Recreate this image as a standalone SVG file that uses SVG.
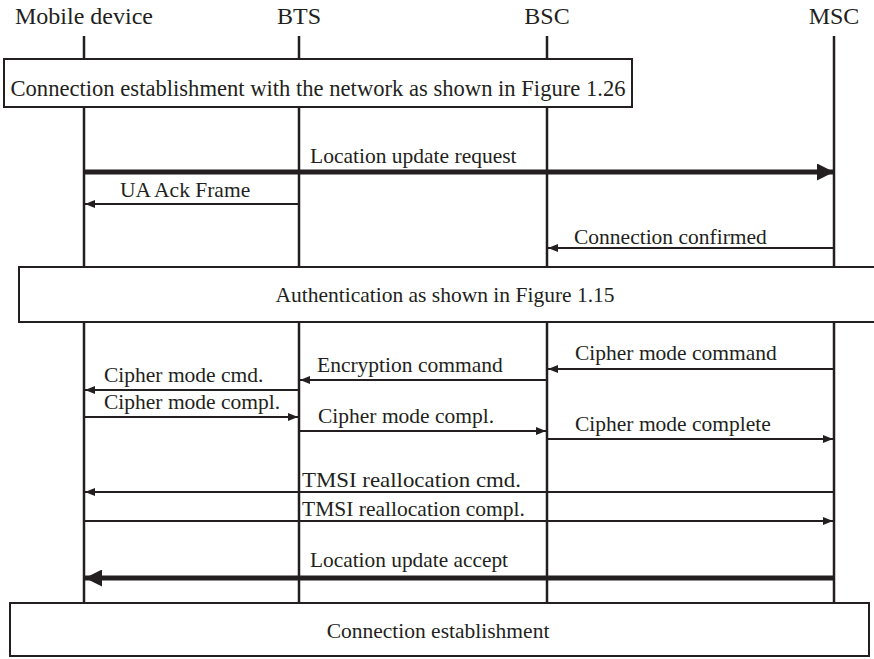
<svg xmlns="http://www.w3.org/2000/svg" width="874" height="659" viewBox="0 0 874 659">
<defs>
<style>
text{font-family:"Liberation Serif","Times New Roman",serif;fill:#231f20;font-size:21.5px}
.hd{font-size:24px;text-anchor:middle}
.mid{text-anchor:middle}
.big{font-size:22.6px}
.life{stroke:#231f20;stroke-width:2.5;fill:none}
.box{stroke:#231f20;stroke-width:2;fill:#fff}
.thin{stroke:#231f20;stroke-width:2;fill:none;marker-end:url(#sa)}
.thick{stroke:#231f20;stroke-width:5;fill:none;marker-end:url(#ba)}
</style>
<marker id="sa" viewBox="0 0 10 10" refX="10" refY="5" markerWidth="5" markerHeight="5" markerUnits="strokeWidth" orient="auto"><path d="M0,1 L10,5 L0,9 Z" fill="#231f20"/></marker>
<marker id="ba" viewBox="0 0 10 10" refX="10" refY="5" markerWidth="3.4" markerHeight="3.4" markerUnits="strokeWidth" orient="auto"><path d="M0,0 L10,5 L0,10 Z" fill="#231f20"/></marker>
</defs>
<g id="lifelines">
<g id="mobile"><text class="hd" x="84" y="24">Mobile device</text><path class="life" d="M84,36V59M84,107V267M84,322V603"/></g>
<g id="bts"><text class="hd" x="299" y="24">BTS</text><path class="life" d="M299,36V59M299,107V267M299,322V603"/></g>
<g id="bsc"><text class="hd" x="547" y="24">BSC</text><path class="life" d="M547,36V59M547,107V267M547,322V603"/></g>
<g id="msc"><text class="hd" x="834" y="24">MSC</text><path class="life" d="M834,36V267M834,322V603"/></g>
</g>
<g id="box1"><rect class="box" x="4" y="59" width="628" height="48"/><text class="mid big" x="318" y="96">Connection establishment with the network as shown in Figure 1.26</text></g>
<g id="box2"><rect class="box" x="19" y="267" width="870" height="55"/><text class="mid" x="445" y="302">Authentication as shown in Figure 1.15</text></g>
<g id="box3"><rect class="box" x="10" y="603" width="859" height="53"/><text class="mid" x="438" y="638">Connection establishment</text></g>
<g id="connectors">
<path class="thick" d="M84,172H834"/>
<path class="thin" d="M299,204H85"/>
<path class="thin" d="M834,248H548"/>
<path class="thin" d="M834,369H548"/>
<path class="thin" d="M547,380H300"/>
<path class="thin" d="M299,390H85"/>
<path class="thin" d="M84,417H298"/>
<path class="thin" d="M299,431H546"/>
<path class="thin" d="M547,439H833"/>
<path class="thin" d="M834,492H85"/>
<path class="thin" d="M84,521H833"/>
<path class="thick" d="M834,578H85"/>
</g>
<g id="labels">
<text x="310" y="163">Location update request</text>
<text x="120" y="197">UA Ack Frame</text>
<text x="574" y="244">Connection confirmed</text>
<text x="575" y="360">Cipher mode command</text>
<text x="317" y="372">Encryption command</text>
<text x="104" y="382">Cipher mode cmd.</text>
<text x="104" y="409">Cipher mode compl.</text>
<text x="318" y="423">Cipher mode compl.</text>
<text x="575" y="431">Cipher mode complete</text>
<text x="302" y="487" textLength="219" lengthAdjust="spacingAndGlyphs">TMSI reallocation cmd.</text>
<text x="302" y="516" textLength="223" lengthAdjust="spacingAndGlyphs">TMSI reallocation compl.</text>
<text x="310" y="567" textLength="198" lengthAdjust="spacingAndGlyphs">Location update accept</text>
</g>
</svg>
